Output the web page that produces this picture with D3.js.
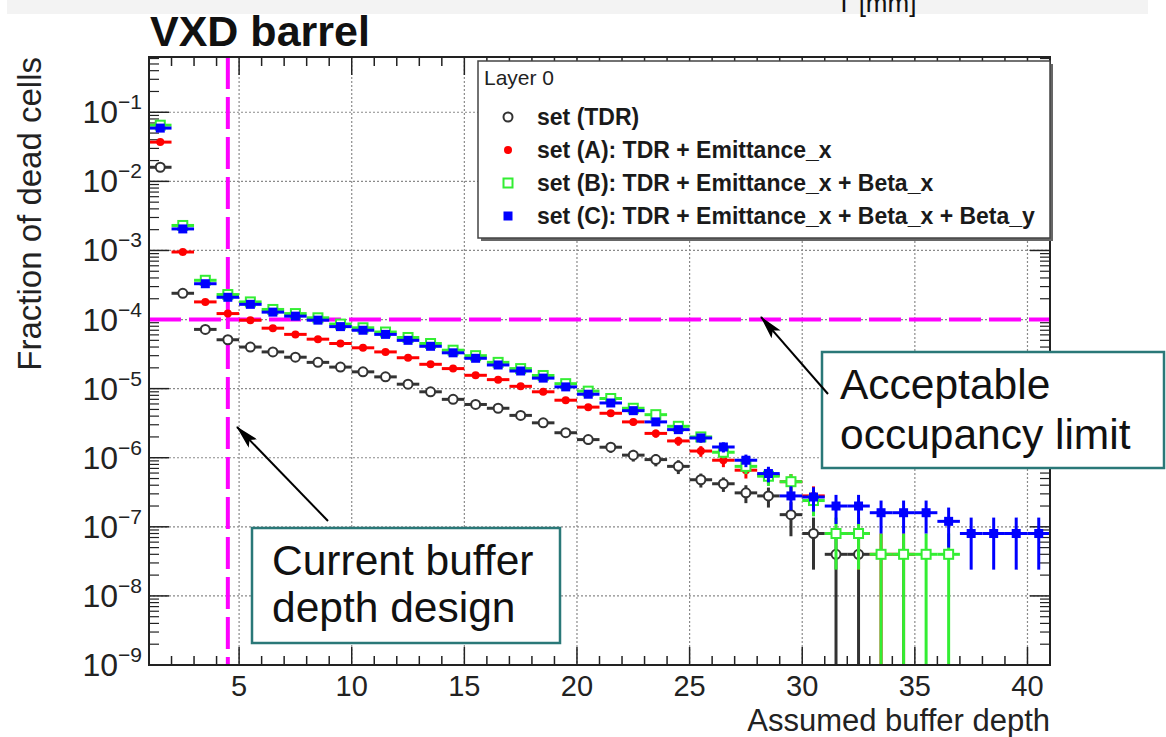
<!DOCTYPE html>
<html>
<head>
<meta charset="utf-8">
<script src="https://cdn.jsdelivr.net/npm/d3@7"></script>
<style>
body { margin: 0; background: #fff; }
svg { font-family: "Liberation Sans", Arial, Helvetica, sans-serif; }
</style>
</head>
<body>
<div class="main"></div>
<script>
const WIDTH = 1166;
const HEIGHT = 737;

// bin centers (assumed buffer depth)
const binCenters = [1.5, 2.5, 3.5, 4.5, 5.5, 6.5, 7.5, 8.5, 9.5, 10.5,
    11.5, 12.5, 13.5, 14.5, 15.5, 16.5, 17.5, 18.5, 19.5, 20.5,
    21.5, 22.5, 23.5, 24.5, 25.5, 26.5, 27.5, 28.5, 29.5, 30.5,
    31.5, 32.5, 33.5, 34.5, 35.5, 36.5, 37.5, 38.5, 39.5, 40.5];

// fraction of dead cells (null = no entry)
const setTDR = [1.6e-2, 2.4e-4, 7.2e-5, 5.1e-5, 4.0e-5, 3.4e-5, 2.85e-5, 2.4e-5, 2.05e-5, 1.75e-5,
    1.48e-5, 1.16e-5, 9.0e-6, 7.0e-6, 5.9e-6, 5.2e-6, 4.1e-6, 3.2e-6, 2.3e-6, 1.83e-6,
    1.42e-6, 1.09e-6, 9.4e-7, 7.5e-7, 4.8e-7, 4.2e-7, 3.1e-7, 2.8e-7, 1.5e-7, 8.0e-8,
    4.0e-8, 4.0e-8, null, null, null, null, null, null, null, null];
const setTDRErr = [3e-4, 1e-5, 1.7e-6, 1.4e-6, 1.3e-6, 1.2e-6, 1.1e-6, 1.0e-6, 9e-7, 8.5e-7,
    7.7e-7, 6.8e-7, 6e-7, 5.3e-7, 4.9e-7, 4.6e-7, 4.1e-7, 3.6e-7, 3.0e-7, 2.7e-7,
    2.4e-7, 2.1e-7, 1.9e-7, 1.7e-7, 1.1e-7, 1.0e-7, 9e-8, 9e-8, 7.7e-8, 5.6e-8,
    4.0e-8, 4.0e-8, null, null, null, null, null, null, null, null];

const setA = [3.7e-2, 9.5e-4, 1.8e-4, 1.22e-4, 9.8e-5, 7.5e-5, 6.1e-5, 5.2e-5, 4.5e-5, 3.9e-5,
    3.4e-5, 2.8e-5, 2.25e-5, 1.95e-5, 1.56e-5, 1.35e-5, 1.08e-5, 9.0e-6, 6.8e-6, 5.4e-6,
    4.4e-6, 3.3e-6, 2.25e-6, 1.75e-6, 1.25e-6, 9.2e-7, 6.6e-7, 5.6e-7, 4.5e-7, 2.8e-7,
    null, 8.0e-8, 4.0e-8, 4.0e-8, null, null, null, null, null, null];
const setAErr = [5e-4, 1.5e-5, 2.7e-6, 2.2e-6, 2.0e-6, 1.7e-6, 1.5e-6, 1.4e-6, 1.3e-6, 1.25e-6,
    1.15e-6, 1.05e-6, 9.5e-7, 8.8e-7, 7.9e-7, 7.3e-7, 6.6e-7, 6.0e-7, 5.2e-7, 4.7e-7,
    4.2e-7, 3.6e-7, 3.0e-7, 2.6e-7, 2.2e-7, 1.9e-7, 1.6e-7, 1.5e-7, 1.3e-7, 1.05e-7,
    null, 5.6e-8, 4.0e-8, 4.0e-8, null, null, null, null, null, null];

const setB = [6.5e-2, 2.3e-3, 3.7e-4, 2.3e-4, 1.8e-4, 1.4e-4, 1.22e-4, 1.06e-4, 8.6e-5, 7.6e-5,
    6.6e-5, 5.5e-5, 4.5e-5, 3.6e-5, 3.0e-5, 2.4e-5, 1.95e-5, 1.55e-5, 1.18e-5, 9.2e-6,
    7.2e-6, 5.2e-6, 4.2e-6, 2.85e-6, 2.0e-6, 1.2e-6, 7.5e-7, 5.4e-7, 4.5e-7, 2.4e-7,
    8.0e-8, 8.0e-8, 4.0e-8, 4.0e-8, 4.0e-8, 4.0e-8, null, null, null, null];
const setBErr = [5e-4, 1.5e-5, 3.8e-6, 3.0e-6, 2.7e-6, 2.4e-6, 2.2e-6, 2.1e-6, 1.85e-6, 1.75e-6,
    1.6e-6, 1.5e-6, 1.35e-6, 1.2e-6, 1.1e-6, 9.8e-7, 8.8e-7, 7.9e-7, 6.9e-7, 6.1e-7,
    5.4e-7, 4.6e-7, 4.1e-7, 3.4e-7, 2.8e-7, 2.2e-7, 1.7e-7, 1.5e-7, 1.3e-7, 9.8e-8,
    5.6e-8, 5.6e-8, 4.0e-8, 4.0e-8, 4.0e-8, 4.0e-8, null, null, null, null];

const setC = [5.9e-2, 2.05e-3, 3.3e-4, 2.1e-4, 1.66e-4, 1.28e-4, 1.12e-4, 9.8e-5, 7.9e-5, 7.0e-5,
    6.1e-5, 5.0e-5, 4.1e-5, 3.3e-5, 2.75e-5, 2.2e-5, 1.8e-5, 1.42e-5, 1.06e-5, 8.3e-6,
    6.2e-6, 4.8e-6, 3.3e-6, 2.55e-6, 1.93e-6, 1.43e-6, 9.2e-7, 5.9e-7, 2.8e-7, 2.7e-7,
    2.0e-7, 2.0e-7, 1.6e-7, 1.6e-7, 1.6e-7, 1.2e-7, 8.0e-8, 8.0e-8, 8.0e-8, 8.0e-8];
const setCErr = [5e-4, 1.5e-5, 3.6e-6, 2.9e-6, 2.6e-6, 2.3e-6, 2.1e-6, 2.0e-6, 1.8e-6, 1.7e-6,
    1.55e-6, 1.4e-6, 1.3e-6, 1.15e-6, 1.05e-6, 9.4e-7, 8.5e-7, 7.5e-7, 6.5e-7, 5.8e-7,
    5.0e-7, 4.4e-7, 3.6e-7, 3.2e-7, 2.8e-7, 2.4e-7, 1.9e-7, 1.5e-7, 1.06e-7, 1.04e-7,
    9.0e-8, 9.0e-8, 8.0e-8, 8.0e-8, 8.0e-8, 7.0e-8, 5.6e-8, 5.6e-8, 5.6e-8, 5.6e-8];

const seriesNames = ["set (TDR)", "set (A): TDR + Emittance_x",
    "set (B): TDR + Emittance_x + Beta_x", "set (C): TDR + Emittance_x + Beta_x + Beta_y"];

const xTicks = [5, 10, 15, 20, 25, 30, 35, 40];
const yDecades = [-9, -8, -7, -6, -5, -4, -3, -2, -1];
const bufferDepthDesign = 4.5;
const occupancyLimit = 1e-4;

const frame = { left: 149, right: 1050, top: 57, bottom: 665 };

const series = [
    { values: setTDR, errs: setTDRErr, color: "#333333", marker: "openCircle" },
    { values: setA, errs: setAErr, color: "#ff0000", marker: "circle" },
    { values: setB, errs: setBErr, color: "#33ee33", marker: "openSquare" },
    { values: setC, errs: setCErr, color: "#0000ff", marker: "square" }
];

var svg = d3.select(".main")
    .append("svg")
        .attr("width", WIDTH)
        .attr("height", HEIGHT);

var x = d3.scaleLinear().domain([1, 41]).range([frame.left, frame.right]);
var y = d3.scaleLog().domain([1e-9, Math.pow(10, -0.2)]).range([frame.bottom, frame.top]);

// cut-off header strip at the very top (cropped slide)
svg.append("rect")
    .attr("x", 7).attr("y", 0).attr("width", 1141).attr("height", 14)
    .attr("fill", "#f3f3f3");
svg.append("text")
    .attr("x", 836).attr("y", 12)
    .attr("font-size", 26)
    .attr("fill", "#111")
    .text("T [mm]");

// title
svg.append("text")
    .attr("x", 150).attr("y", 46)
    .attr("font-size", 43)
    .attr("font-weight", "bold")
    .attr("fill", "#111")
    .text("VXD barrel");

var defs = svg.append("defs");
defs.append("clipPath").attr("id", "frameClip")
    .append("rect")
        .attr("x", frame.left).attr("y", frame.top)
        .attr("width", frame.right - frame.left)
        .attr("height", frame.bottom - frame.top);
defs.append("marker")
    .attr("id", "arrowHead")
    .attr("viewBox", "0 0 24 12")
    .attr("refX", 23).attr("refY", 6)
    .attr("markerWidth", 24).attr("markerHeight", 12)
    .attr("markerUnits", "userSpaceOnUse")
    .attr("orient", "auto")
    .append("path")
        .attr("d", "M0,0 L24,6 L0,12 L5,6 z")
        .attr("fill", "#000");

// grid
var grid = svg.append("g");
grid.selectAll(".gx")
    .data(xTicks)
    .join("line")
        .attr("x1", d => x(d)).attr("x2", d => x(d))
        .attr("y1", frame.top).attr("y2", frame.bottom)
        .attr("stroke", "#8a8a8a").attr("stroke-width", 1.2)
        .attr("stroke-dasharray", "2,2");
grid.selectAll(".gy")
    .data(yDecades.filter(d => d > -9))
    .join("line")
        .attr("x1", frame.left).attr("x2", frame.right)
        .attr("y1", d => y(Math.pow(10, d))).attr("y2", d => y(Math.pow(10, d)))
        .attr("stroke", "#8a8a8a").attr("stroke-width", 1.2)
        .attr("stroke-dasharray", "2,2");

// ticks on all four sides, ROOT style
var ticks = svg.append("g").attr("stroke", "#222").attr("stroke-width", 1.5);
d3.range(2, 41).forEach(v => {
    var len = v % 5 === 0 ? 18 : 9;
    ticks.append("line").attr("x1", x(v)).attr("x2", x(v))
        .attr("y1", frame.bottom).attr("y2", frame.bottom - len);
    ticks.append("line").attr("x1", x(v)).attr("x2", x(v))
        .attr("y1", frame.top).attr("y2", frame.top + len);
});
yDecades.forEach(e => {
    if (e > -9) {
        var yy = y(Math.pow(10, e));
        ticks.append("line").attr("x1", frame.left).attr("x2", frame.left + 20)
            .attr("y1", yy).attr("y2", yy);
        ticks.append("line").attr("x1", frame.right).attr("x2", frame.right - 20)
            .attr("y1", yy).attr("y2", yy);
    }
});
yDecades.forEach(e => {
    d3.range(2, 10).forEach(m => {
        var v = m * Math.pow(10, e);
        if (v > y.domain()[1]) return;
        var yy = y(v);
        ticks.append("line").attr("x1", frame.left).attr("x2", frame.left + 10)
            .attr("y1", yy).attr("y2", yy).attr("stroke-width", 1.2);
        ticks.append("line").attr("x1", frame.right).attr("x2", frame.right - 10)
            .attr("y1", yy).attr("y2", yy).attr("stroke-width", 1.2);
    });
});

// x tick labels
svg.append("g")
    .selectAll("text")
    .data(xTicks)
    .join("text")
        .attr("x", d => x(d))
        .attr("y", 696)
        .attr("text-anchor", "middle")
        .attr("font-size", 29)
        .attr("fill", "#222")
        .text(d => d);

// y tick labels: 10^-n
var yLabels = svg.append("g")
    .selectAll("text")
    .data(yDecades)
    .join("text")
        .attr("x", 142)
        .attr("y", d => y(Math.pow(10, d)) + 11)
        .attr("text-anchor", "end")
        .attr("font-size", 32)
        .attr("fill", "#222");
yLabels.append("tspan").text("10");
yLabels.append("tspan")
    .attr("font-size", 21)
    .attr("dy", -14)
    .text(d => "\u2212" + (-d));

// axis titles
svg.append("text")
    .attr("x", frame.right)
    .attr("y", 731)
    .attr("text-anchor", "end")
    .attr("font-size", 31)
    .attr("fill", "#222")
    .text("Assumed buffer depth");
svg.append("text")
    .attr("transform", "translate(41," + frame.top + ") rotate(-90)")
    .attr("text-anchor", "end")
    .attr("font-size", 33)
    .attr("fill", "#222")
    .text("Fraction of dead cells");

// acceptance lines
var limits = svg.append("g").attr("clip-path", "url(#frameClip)");
limits.append("line")
    .attr("x1", x(1)).attr("x2", x(41))
    .attr("y1", y(occupancyLimit)).attr("y2", y(occupancyLimit))
    .attr("stroke", "#ff00ff").attr("stroke-width", 4)
    .attr("stroke-dasharray", "32,8");
limits.append("line")
    .attr("x1", x(bufferDepthDesign)).attr("x2", x(bufferDepthDesign))
    .attr("y1", frame.top).attr("y2", frame.bottom)
    .attr("stroke", "#ff00ff").attr("stroke-width", 4)
    .attr("stroke-dasharray", "32,8");

// data: error bars + markers
var plot = svg.append("g").attr("clip-path", "url(#frameClip)");

function drawMarker(g, type, color, cx, cy) {
    if (type === "openCircle") {
        g.append("circle").attr("cx", cx).attr("cy", cy).attr("r", 4.5)
            .attr("fill", "#fff").attr("stroke", color).attr("stroke-width", 2);
    } else if (type === "circle") {
        g.append("circle").attr("cx", cx).attr("cy", cy).attr("r", 4)
            .attr("fill", color);
    } else if (type === "openSquare") {
        g.append("rect").attr("x", cx - 4.5).attr("y", cy - 4.5)
            .attr("width", 9).attr("height", 9)
            .attr("fill", "#fff").attr("stroke", color).attr("stroke-width", 2);
    } else {
        g.append("rect").attr("x", cx - 4.5).attr("y", cy - 4.5)
            .attr("width", 9).attr("height", 9)
            .attr("fill", color);
    }
}

series.forEach(s => {
    var g = plot.append("g");
    binCenters.forEach((c, i) => {
        var v = s.values[i];
        if (v === null) return;
        var e = s.errs[i] || 0;
        var cx = x(c), cy = y(v);
        var lo = v - e > 0 ? y(v - e) : frame.bottom + 5;
        var hi = y(v + e);
        g.append("line")
            .attr("x1", x(c - 0.5)).attr("x2", x(c + 0.5))
            .attr("y1", cy).attr("y2", cy)
            .attr("stroke", s.color).attr("stroke-width", 3);
        g.append("line")
            .attr("x1", cx).attr("x2", cx)
            .attr("y1", hi).attr("y2", lo)
            .attr("stroke", s.color).attr("stroke-width", 3);
        drawMarker(g, s.marker, s.color, cx, cy);
    });
});

// frame
svg.append("rect")
    .attr("x", frame.left).attr("y", frame.top)
    .attr("width", frame.right - frame.left)
    .attr("height", frame.bottom - frame.top)
    .attr("fill", "none")
    .attr("stroke", "#222").attr("stroke-width", 2);

// legend
var legend = svg.append("g");
legend.append("rect")
    .attr("x", 481).attr("y", 64).attr("width", 572).attr("height", 177)
    .attr("fill", "#666");
legend.append("rect")
    .attr("x", 478).attr("y", 61).attr("width", 572).attr("height", 177)
    .attr("fill", "#fff").attr("stroke", "#444").attr("stroke-width", 1.5);
legend.append("text")
    .attr("x", 484).attr("y", 85)
    .attr("font-size", 21)
    .attr("fill", "#222")
    .text("Layer 0");
seriesNames.forEach((name, i) => {
    var ly = 117 + i * 33;
    drawMarker(legend, series[i].marker, series[i].color, 508, ly);
    legend.append("text")
        .attr("x", 537).attr("y", ly + 8)
        .attr("font-size", 23)
        .attr("font-weight", "bold")
        .attr("fill", "#1a1a1a")
        .text(name);
});

// annotations
function noteBox(bx, by, bw, bh, lines, tx, baselines) {
    svg.append("rect")
        .attr("x", bx).attr("y", by).attr("width", bw).attr("height", bh)
        .attr("fill", "#fff")
        .attr("stroke", "#2a7878").attr("stroke-width", 2.5);
    lines.forEach((t, i) => {
        svg.append("text")
            .attr("x", tx).attr("y", baselines[i])
            .attr("font-size", 42.5)
            .attr("fill", "#111")
            .text(t);
    });
}
noteBox(822, 352, 342, 116, ["Acceptable", "occupancy limit"], 840, [399, 449]);
noteBox(252, 528, 308, 115, ["Current buffer", "depth design"], 272, [575, 622]);

svg.append("line")
    .attr("x1", 828).attr("y1", 394)
    .attr("x2", 761).attr("y2", 317)
    .attr("stroke", "#000").attr("stroke-width", 2)
    .attr("marker-end", "url(#arrowHead)");
svg.append("line")
    .attr("x1", 328).attr("y1", 521)
    .attr("x2", 237).attr("y2", 427)
    .attr("stroke", "#000").attr("stroke-width", 2)
    .attr("marker-end", "url(#arrowHead)");
</script>
</body>
</html>
